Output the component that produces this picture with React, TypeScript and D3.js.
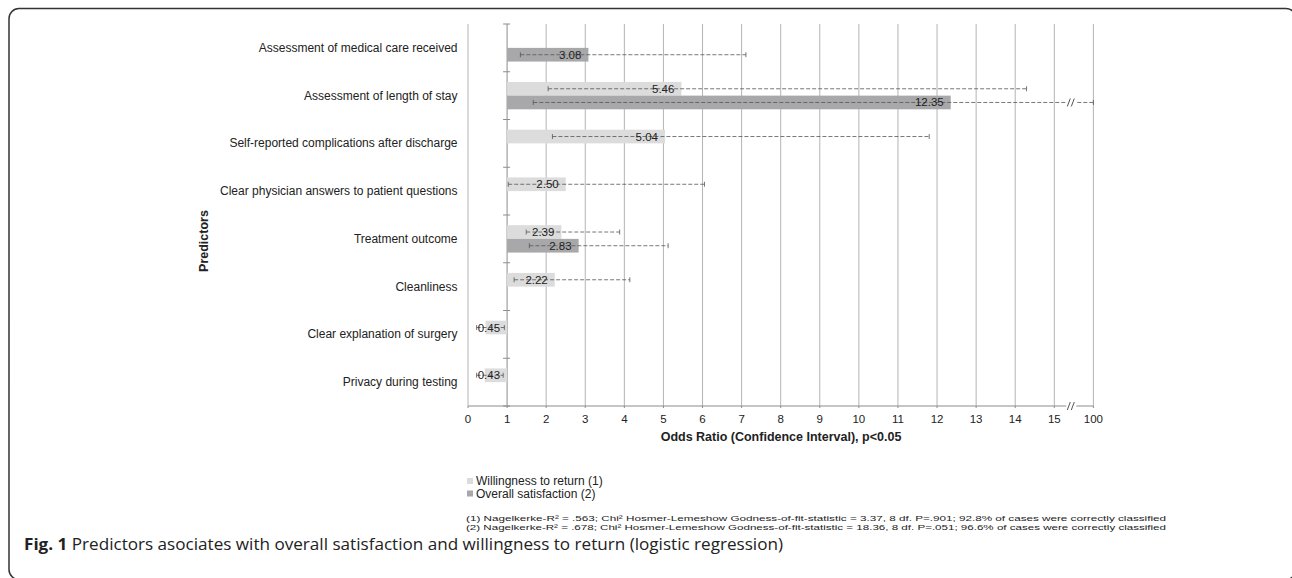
import React from "react";
import * as d3 from "d3";

// ---------- data ----------
const categories = [
  "Assessment of medical care received",
  "Assessment of length of stay",
  "Self-reported complications after discharge",
  "Clear physician answers to patient questions",
  "Treatment outcome",
  "Cleanliness",
  "Clear explanation of surgery",
  "Privacy during testing",
];

const seriesNames = ["Willingness to return (1)", "Overall satisfaction (2)"];

// Willingness to return (1)
const willingness: (number | null)[] = [null, 5.46, 5.04, 2.5, 2.39, 2.22, 0.45, 0.43];
const willingnessLow: (number | null)[] = [null, 2.05, 2.16, 1.03, 1.49, 1.18, 0.22, 0.22];
const willingnessHigh: (number | null)[] = [null, 14.29, 11.8, 6.05, 3.88, 4.14, 0.93, 0.9];

// Overall satisfaction (2)
const overall: (number | null)[] = [3.08, 12.35, null, null, 2.83, null, null, null];
const overallLow: (number | null)[] = [1.34, 1.67, null, null, 1.57, null, null, null];
const overallHigh: (number | null)[] = [7.11, 100, null, null, 5.12, null, null, null];

const tickValues = [0, 1, 2, 3, 4, 5, 6, 7, 8, 9, 10, 11, 12, 13, 14, 15, 100];

const footnotes = [
  "(1) Nagelkerke-R² = .563; Chi² Hosmer-Lemeshow Godness-of-fit-statistic = 3.37, 8 df. P=.901; 92.8% of cases were correctly classified",
  "(2) Nagelkerke-R² = .678; Chi² Hosmer-Lemeshow Godness-of-fit-statistic = 18.36, 8 df. P=.051; 96.6% of cases were correctly classified",
];

const captionBold = "Fig. 1";
const captionText = " Predictors asociates with overall satisfaction and willingness to return (logistic regression)";

const xTitle = "Odds Ratio (Confidence Interval), p<0.05";
const yTitle = "Predictors";

// ---------- styles ----------
const LIGHT = "#dcdcdc";
const DARK = "#a8a8aa";
const GRID = "#b4b4b4";
const AXIS = "#8c8c8c";
const ERR = "#555";
const TEXT = "#222";
const FONT = "'Liberation Sans', Arial, sans-serif";

export default function App() {
  const W = 1292;
  const H = 578;
  const left = 468;
  const top = 24;
  const bottom = 406;

  const x = d3.scaleLinear().domain([0, 15, 100]).range([left, 1054.3, 1093.4]);
  const y = d3.scaleBand().domain(categories).range([top, bottom]);
  const barH = 13.7;
  const series = [
    { vals: willingness, lo: willingnessLow, hi: willingnessHigh, color: LIGHT, off: -barH },
    { vals: overall, lo: overallLow, hi: overallHigh, color: DARK, off: 0 },
  ];

  const x1 = x(1);
  const breakStart = x(15) + 13; // start of "//" break

  const slashes = (cx: number, cy: number, key: string) => (
    <g key={key} stroke={ERR} strokeWidth={1}>
      <line x1={cx - 1} y1={cy + 4} x2={cx + 2} y2={cy - 4} />
      <line x1={cx + 3} y1={cy + 4} x2={cx + 6} y2={cy - 4} />
    </g>
  );

  const boundaries = d3.range(categories.length + 1).map((i) => top + i * y.step());

  return (
    <svg
      width={W}
      height={H}
      style={{ position: "absolute", left: 0, top: 0, background: "#fff" }}
      fontFamily={FONT}
    >
      {/* frame */}
      <rect x={9} y={8.5} width={1287} height={571} rx={10} ry={10} fill="none" stroke="#333" strokeWidth={1.5} />

      {/* gridlines */}
      {tickValues.map((t) => (
        <line key={"g" + t} x1={x(t)} x2={x(t)} y1={top} y2={bottom} stroke={t === 1 ? AXIS : GRID} strokeWidth={1} />
      ))}

      {/* y axis category ticks at x=1 */}
      {boundaries.map((b, i) => (
        <line key={"yt" + i} x1={x1 - 4} x2={x1 + 3} y1={b} y2={b} stroke={AXIS} strokeWidth={1} />
      ))}

      {/* x axis line with break */}
      <line x1={left} x2={breakStart - 1} y1={bottom} y2={bottom} stroke={AXIS} strokeWidth={1} />
      <line x1={breakStart + 9} x2={x(100)} y1={bottom} y2={bottom} stroke={AXIS} strokeWidth={1} />
      {slashes(breakStart + 1, bottom, "axbreak")}
      {tickValues.map((t) => (
        <line key={"xt" + t} x1={x(t)} x2={x(t)} y1={bottom} y2={bottom + 2} stroke={AXIS} strokeWidth={1} />
      ))}
      {tickValues.map((t) => (
        <text key={"xl" + t} x={x(t)} y={423} textAnchor="middle" fontSize={11.5} fill={TEXT}>
          {t}
        </text>
      ))}

      {/* bars */}
      {series.map((s, si) =>
        categories.map((c, i) => {
          const v = s.vals[i];
          if (v == null) return null;
          const cy = (y(c) as number) + y.bandwidth() / 2 + s.off;
          const x0 = Math.min(x(v), x1);
          const w = Math.abs(x(v) - x1);
          return <rect key={`b${si}-${i}`} x={x0} y={cy} width={w} height={barH} fill={s.color} />;
        })
      )}

      {/* error bars */}
      {series.map((s, si) =>
        categories.map((c, i) => {
          const lo = s.lo[i];
          const hi = s.hi[i];
          if (lo == null || hi == null) return null;
          const cy = (y(c) as number) + y.bandwidth() / 2 + s.off + barH / 2;
          const xl = x(lo);
          const xh = x(hi);
          const broken = hi > 15;
          return (
            <g key={`e${si}-${i}`}>
              {broken ? (
                <>
                  <line x1={xl} x2={breakStart - 1} y1={cy} y2={cy} stroke={ERR} strokeWidth={0.8} strokeDasharray="4,2" />
                  {slashes(breakStart + 1, cy, "eb" + i)}
                  <line x1={breakStart + 10} x2={xh} y1={cy} y2={cy} stroke={ERR} strokeWidth={0.8} strokeDasharray="4,2" />
                </>
              ) : (
                <line x1={xl} x2={xh} y1={cy} y2={cy} stroke={ERR} strokeWidth={0.8} strokeDasharray="4,2" />
              )}
              <line x1={xl} x2={xl} y1={cy - 2.5} y2={cy + 2.5} stroke={ERR} strokeWidth={0.8} />
              <line x1={xh} x2={xh} y1={cy - 2.5} y2={cy + 2.5} stroke={ERR} strokeWidth={0.8} />
            </g>
          );
        })
      )}

      {/* value labels */}
      {series.map((s, si) =>
        categories.map((c, i) => {
          const v = s.vals[i];
          if (v == null) return null;
          const cy = (y(c) as number) + y.bandwidth() / 2 + s.off + barH / 2;
          return (
            <text key={`l${si}-${i}`} x={x(Math.max(v, 1)) - 7} y={cy + 4} textAnchor="end" fontSize={11.5} fill={TEXT}>
              {v.toFixed(2)}
            </text>
          );
        })
      )}

      {/* category labels */}
      {categories.map((c) => (
        <text key={"c" + c} x={457.5} y={(y(c) as number) + y.bandwidth() / 2 + 4} textAnchor="end" fontSize={12} fill={TEXT}>
          {c}
        </text>
      ))}

      {/* axis titles */}
      <text x={781} y={441} textAnchor="middle" fontSize={12.5} fontWeight="bold" fill={TEXT}>
        {xTitle}
      </text>
      <text transform="translate(208,241) rotate(-90)" textAnchor="middle" fontSize={12.5} fontWeight="bold" fill={TEXT}>
        {yTitle}
      </text>

      {/* legend */}
      {seriesNames.map((n, i) => (
        <g key={"lg" + i}>
          <rect x={467} y={478 + i * 12.5} width={6} height={6} fill={i === 0 ? LIGHT : DARK} />
          <text x={476} y={485 + i * 12.5} fontSize={12} fill={TEXT}>
            {n}
          </text>
        </g>
      ))}

      {/* footnotes */}
      {footnotes.map((f, i) => (
        <text
          key={"fn" + i}
          x={466}
          y={521 + i * 8.5}
          fontSize={8}
          fill={TEXT}
          fontFamily="'Liberation Sans Narrow', 'Liberation Sans', Arial, sans-serif"
          textLength={700}
          lengthAdjust="spacingAndGlyphs"
        >
          {f}
        </text>
      ))}

      {/* caption */}
      <text x={24} y={550} fontSize={16} fill="#222" fontFamily="'Open Sans', 'Noto Sans', sans-serif" textLength={759} lengthAdjust="spacingAndGlyphs">
        <tspan fontWeight="bold">{captionBold}</tspan>
        <tspan>{captionText}</tspan>
      </text>
    </svg>
  );
}
